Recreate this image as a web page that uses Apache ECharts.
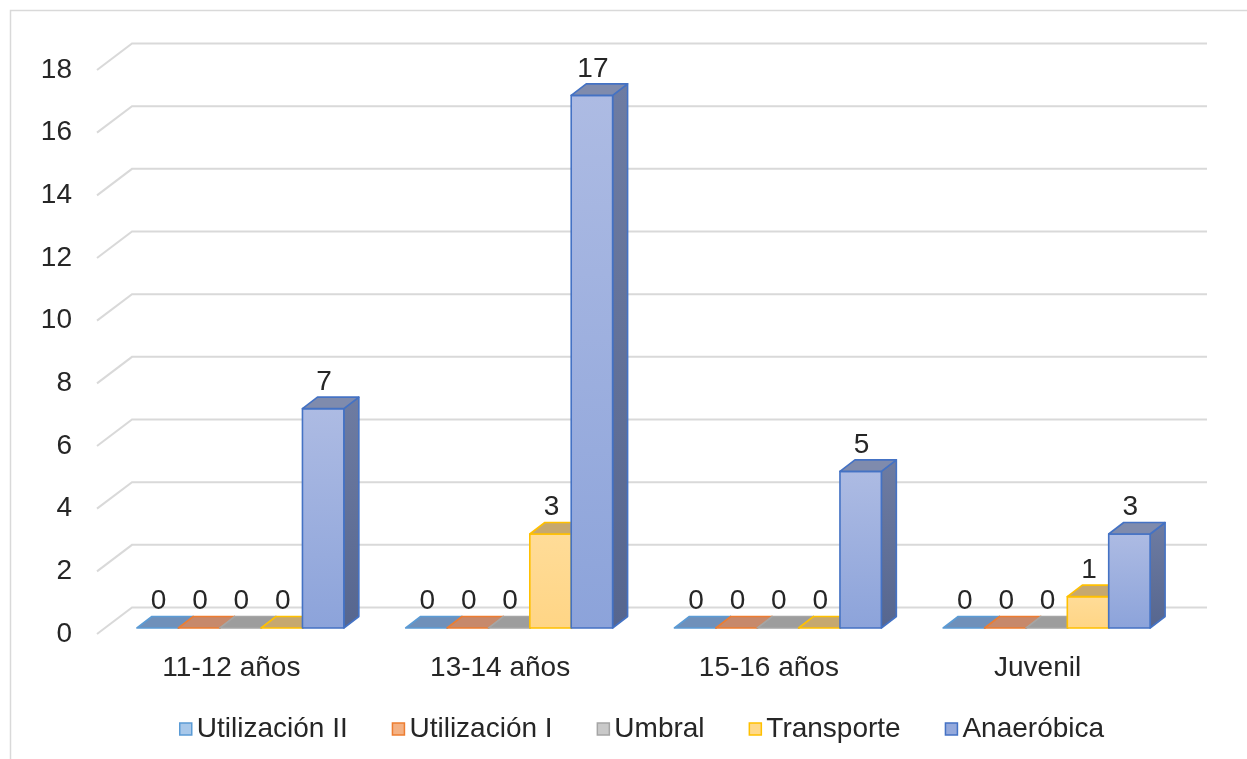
<!DOCTYPE html>
<html>
<head>
<meta charset="utf-8">
<script src="https://cdn.jsdelivr.net/npm/echarts@6/dist/echarts.min.js"></script>
<style>html,body{margin:0;padding:0;background:#fff;}#c{width:1247px;height:759px;}</style>
</head>
<body>
<div id="c"></div>
<script>
const categories = ['11-12 años', '13-14 años', '15-16 años', 'Juvenil'];
const utilizacionII = [0, 0, 0, 0];
const utilizacionI = [0, 0, 0, 0];
const umbral = [0, 0, 0, 0];
const transporte = [0, 3, 0, 1];
const anaerobica = [7, 17, 5, 3];
const yTicks = [0, 2, 4, 6, 8, 10, 12, 14, 16, 18];

const seriesDefs = [
  { name: 'Utilización II', data: utilizacionII, border: '#5B9BD5', fTop: '#A4C6E8', fBot: '#86B1DE', top: '#6F90BA', sTop: '#6584AD', sBot: '#56749B', legend: '#A8C8EA' },
  { name: 'Utilización I', data: utilizacionI, border: '#ED7D31', fTop: '#F6B990', fBot: '#F29F6C', top: '#C7896B', sTop: '#B07558', sBot: '#9C654B', legend: '#F4B183' },
  { name: 'Umbral', data: umbral, border: '#A5A5A5', fTop: '#CFCFCF', fBot: '#B9B9B9', top: '#9D9D9D', sTop: '#8E8E8E', sBot: '#7E7E7E', legend: '#C9C9C9' },
  { name: 'Transporte', data: transporte, border: '#FFC000', fTop: '#FFDC98', fBot: '#FFD585', top: '#C6A86F', sTop: '#B0935A', sBot: '#9E824C', legend: '#FFD98A' },
  { name: 'Anaeróbica', data: anaerobica, border: '#4472C4', fTop: '#ADBBE3', fBot: '#8CA3DA', top: '#7F8BAD', sTop: '#6E7CA2', sBot: '#56668F', legend: '#94A9DC' }
];

const D = [35, -26.5];   // full floor depth
const F = [9, -6];       // bar front plane offset
const B = [24, -17.5];   // bar back plane offset
const GAP = 0.23;
const FONT = 'Liberation Sans, Arial, sans-serif';
const TXT = '#262626';
const FS = 28;

function barRenderer(idx, def) {
  return function (params, api) {
    const cat = api.value(0), v = api.value(1);
    const band = api.size([1, 0])[0];
    const w = band * (1 - GAP) / seriesDefs.length;
    const c0 = api.coord([cat, 0]);
    const cv = api.coord([cat, v]);
    const xl = c0[0] - w * seriesDefs.length / 2 + idx * w;
    const xr = xl + w;
    const y0 = c0[1], yv = cv[1];
    const fl = xl + F[0], fr = xr + F[0];
    const ft = yv + F[1], fb = y0 + F[1];
    const bl = xl + B[0], br = xr + B[0];
    const bt = yv + B[1], bb = y0 + B[1];
    const stroke = { stroke: def.border, lineWidth: 1.6, lineJoin: 'round' };
    const children = [];
    children.push({
      type: 'polygon',
      shape: { points: [[fr, ft], [br, bt], [br, bb], [fr, fb]] },
      style: Object.assign({ fill: { type: 'linear', x: 0, y: 0, x2: 0, y2: 1, colorStops: [{ offset: 0, color: def.sTop }, { offset: 1, color: def.sBot }] } }, stroke)
    });
    if (fb - ft > 0.5) {
      children.push({
        type: 'rect',
        shape: { x: fl, y: ft, width: w, height: fb - ft },
        style: Object.assign({ fill: { type: 'linear', x: 0, y: 0, x2: 0, y2: 1, colorStops: [{ offset: 0, color: def.fTop }, { offset: 1, color: def.fBot }] } }, stroke)
      });
    }
    children.push({
      type: 'polygon',
      shape: { points: [[fl, ft], [fr, ft], [br, bt], [bl, bt]] },
      style: Object.assign({ fill: def.top }, stroke)
    });
    children.push({
      type: 'text',
      style: {
        text: String(v), x: (fl + fr) / 2 + 1, y: bt - 1,
        align: 'center', verticalAlign: 'bottom',
        fontSize: FS, fontFamily: FONT, fill: TXT
      }
    });
    return { type: 'group', children: children };
  };
}

const series = [{
  type: 'custom',
  name: '__grid',
  silent: true,
  clip: false,
  z: 1,
  data: yTicks.map(t => [0, t]),
  encode: { x: 0, y: 1 },
  renderItem: function (params, api) {
    const cs = params.coordSys;
    const y = api.coord([0, api.value(1)])[1];
    return {
      type: 'polyline',
      shape: { points: [[cs.x, y], [cs.x + D[0], y + D[1]], [cs.x + cs.width + D[0], y + D[1]]] },
      style: { stroke: '#D9D9D9', lineWidth: 2, fill: null }
    };
  }
}];

seriesDefs.forEach((def, idx) => {
  series.push({
    type: 'custom',
    name: def.name,
    clip: false,
    z: 2,
    itemStyle: { color: def.legend, borderColor: def.border },
    data: def.data.map((v, i) => [i, v]),
    encode: { x: 0, y: 1 },
    renderItem: barRenderer(idx, def)
  });
});

const chart = echarts.init(document.getElementById('c'));
chart.setOption({
  animation: false,
  backgroundColor: '#fff',
  graphic: [{
    type: 'rect', left: 8, top: 8, silent: true,
    shape: { width: 1400, height: 900 },
    style: { fill: null, stroke: '#D9D9D9', lineWidth: 1.5 }
  }],
  grid: { left: 97, right: 75, top: 70, bottom: 125 },
  xAxis: {
    type: 'category',
    data: categories,
    boundaryGap: true,
    axisLine: { show: false },
    axisTick: { show: false },
    axisLabel: { fontSize: FS, fontFamily: FONT, color: TXT, margin: 20 }
  },
  yAxis: {
    type: 'value',
    min: 0, max: 18, interval: 2,
    axisLine: { show: false },
    axisTick: { show: false },
    splitLine: { show: false },
    axisLabel: { fontSize: FS, fontFamily: FONT, color: TXT, margin: 25 }
  },
  legend: {
    left: 174, top: 710,
    itemWidth: 12, itemHeight: 12, itemGap: 44,
    textStyle: { fontSize: FS, fontFamily: FONT, color: TXT, padding: [0, 0, 0, 0] },
    data: seriesDefs.map(d => ({
      name: d.name, icon: 'rect',
      itemStyle: { color: d.legend, borderColor: d.border, borderWidth: 1.5 }
    }))
  },
  series: series
});
</script>
</body>
</html>
